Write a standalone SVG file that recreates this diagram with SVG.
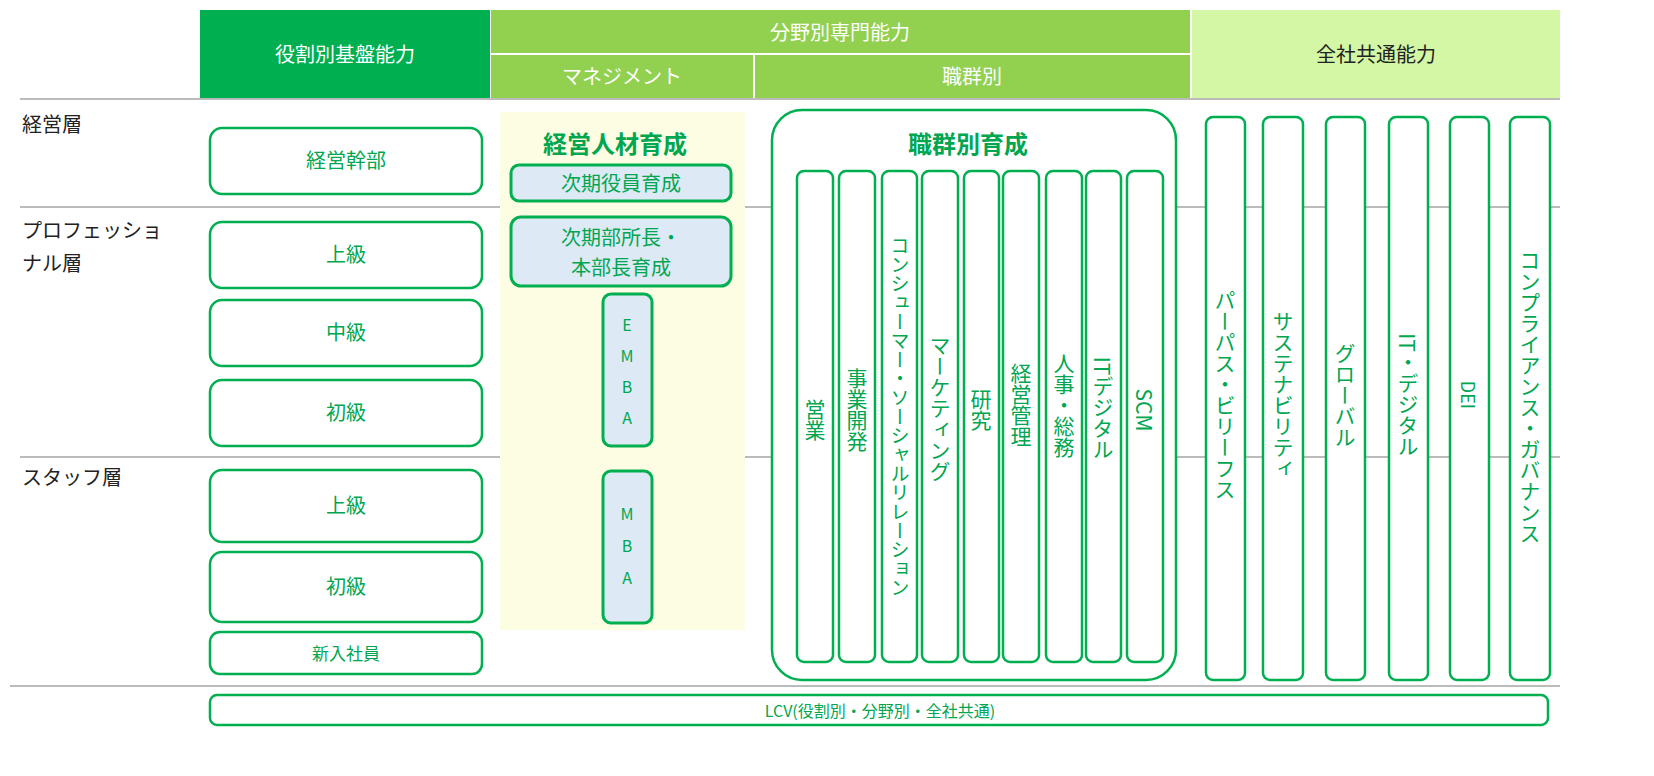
<svg xmlns="http://www.w3.org/2000/svg" width="1654" height="776" viewBox="0 0 1654 776">
<style>
text{font-family:"Noto Sans CJK JP","Noto Sans",sans-serif}
.h{fill:#fff;font-size:20px;text-anchor:middle}
.g{fill:#00a650;font-size:20px;text-anchor:middle}
.lbl{fill:#222;font-size:20px}
.bx{fill:#fff;stroke:#00b050;stroke-width:2.5}
.bl{fill:#dde9f5;stroke:#00b050;stroke-width:3}
.v{fill:#00a650;font-size:21px;writing-mode:vertical-rl;text-anchor:middle}
.line{stroke:#bbb;stroke-width:2}
</style>
<rect width="1654" height="776" fill="#fff"/>
<g id="header">
<rect x="200" y="10" width="290" height="88" fill="#00b050"/>
<text class="h" x="345" y="62">役割別基盤能力</text>
<rect x="491" y="10" width="699" height="43" fill="#92d050"/>
<text class="h" x="840" y="40">分野別専門能力</text>
<rect x="491" y="55" width="262" height="43" fill="#92d050"/>
<text class="h" x="622" y="84">マネジメント</text>
<rect x="755" y="55" width="435" height="43" fill="#92d050"/>
<text class="h" x="972" y="84">職群別</text>
<rect x="1192" y="10" width="368" height="88" fill="#d3f7a5"/>
<text x="1376" y="62" style="fill:#222;font-size:20px;text-anchor:middle">全社共通能力</text>
</g>
<g id="connectors">
<line class="line" x1="20" y1="99" x2="1560" y2="99"/>
<line class="line" x1="20" y1="207" x2="1560" y2="207"/>
<line class="line" x1="20" y1="457" x2="1560" y2="457"/>
<line class="line" x1="10" y1="686" x2="1560" y2="686"/>
</g>
<g id="rows">
<text class="lbl" x="22" y="132">経営層</text>
<text class="lbl" x="22" y="238">プロフェッショ</text>
<text class="lbl" x="22" y="271">ナル層</text>
<text class="lbl" x="22" y="485">スタッフ層</text>
</g>
<g id="role">
<rect class="bx" x="210" y="128" width="272" height="66" rx="12"/><text class="g" x="346" y="168">経営幹部</text>
<rect class="bx" x="210" y="222" width="272" height="66" rx="12"/><text class="g" x="346" y="262">上級</text>
<rect class="bx" x="210" y="300" width="272" height="66" rx="12"/><text class="g" x="346" y="340">中級</text>
<rect class="bx" x="210" y="380" width="272" height="66" rx="12"/><text class="g" x="346" y="420">初級</text>
<rect class="bx" x="210" y="470" width="272" height="72" rx="12"/><text class="g" x="346" y="513">上級</text>
<rect class="bx" x="210" y="552" width="272" height="70" rx="12"/><text class="g" x="346" y="594">初級</text>
<rect class="bx" x="210" y="632" width="272" height="42" rx="10"/><text class="g" x="346" y="660" style="font-size:17px">新入社員</text>
</g>
<g id="mgmt">
<rect x="500" y="112" width="245" height="518" fill="#fdfde3"/>
<text x="615" y="153" style="fill:#00a650;font-size:24px;font-weight:bold;text-anchor:middle">経営人材育成</text>
<rect class="bl" x="511" y="165" width="220" height="36" rx="8"/><text class="g" x="621" y="191">次期役員育成</text>
<rect class="bl" x="511" y="217" width="220" height="69" rx="10"/><text class="g" x="621" y="245">次期部所長・</text><text class="g" x="621" y="275">本部長育成</text>
<rect class="bl" x="603" y="294" width="49" height="152" rx="8"/>
<text class="g" x="627" y="331" style="font-size:16px">E</text><text class="g" x="627" y="362" style="font-size:16px">M</text><text class="g" x="627" y="393" style="font-size:16px">B</text><text class="g" x="627" y="424" style="font-size:16px">A</text>
<rect class="bl" x="603" y="471" width="49" height="152" rx="8"/>
<text class="g" x="627" y="520" style="font-size:16px">M</text><text class="g" x="627" y="552" style="font-size:16px">B</text><text class="g" x="627" y="584" style="font-size:16px">A</text>
</g>
<g id="job">
<rect class="bx" x="772" y="110" width="404" height="570" rx="30"/>
<text x="968" y="153" style="fill:#00a650;font-size:24px;font-weight:bold;text-anchor:middle">職群別育成</text>
<rect class="bx" x="797" y="171" width="36" height="491" rx="7"/><text class="v" x="815" y="420">営業</text>
<rect class="bx" x="839" y="171" width="36" height="491" rx="7"/><text class="v" x="857" y="410">事業開発</text>
<rect class="bx" x="882" y="171" width="35" height="491" rx="7"/><text class="v" x="900" y="417" style="font-size:19px">コンシューマー・ソーシャルリレーション</text>
<rect class="bx" x="922" y="171" width="36" height="491" rx="7"/><text class="v" x="940" y="408">マーケティング</text>
<rect class="bx" x="964" y="171" width="35" height="491" rx="7"/><text class="v" x="981" y="410">研究</text>
<rect class="bx" x="1003" y="171" width="36" height="491" rx="7"/><text class="v" x="1021" y="405">経営管理</text>
<rect class="bx" x="1046" y="171" width="36" height="491" rx="7"/><text class="v" x="1064" y="405">人事・総務</text>
<rect class="bx" x="1086" y="171" width="35" height="491" rx="7"/><text class="v" x="1103" y="408">ITデジタル</text>
<rect class="bx" x="1127" y="171" width="36" height="491" rx="7"/><text class="v" x="1145" y="410">SCM</text>
</g>
<g id="common">
<rect class="bx" x="1206" y="117" width="39" height="563" rx="7"/><text class="v" x="1225" y="395">パーパス・ビリーフス</text>
<rect class="bx" x="1263" y="117" width="40" height="563" rx="7"/><text class="v" x="1283" y="395">サステナビリティ</text>
<rect class="bx" x="1326" y="117" width="39" height="563" rx="7"/><text class="v" x="1345" y="395">グローバル</text>
<rect class="bx" x="1389" y="117" width="39" height="563" rx="7"/><text class="v" x="1408" y="395">IT・デジタル</text>
<rect class="bx" x="1450" y="117" width="39" height="563" rx="7"/><text class="v" x="1469" y="395" style="font-size:18px">DEI</text>
<rect class="bx" x="1510" y="117" width="40" height="563" rx="7"/><text class="v" x="1530" y="397">コンプライアンス・ガバナンス</text>
</g>
<g id="lcv">
<rect class="bx" x="210" y="695" width="1338" height="30" rx="7"/>
<text class="g" x="880" y="717" style="font-size:16px">LCV(役割別・分野別・全社共通)</text>
</g>
</svg>
